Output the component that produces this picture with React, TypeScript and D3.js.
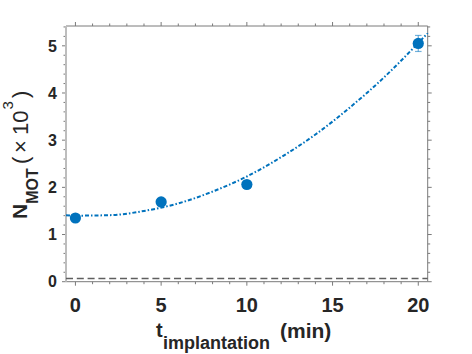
import React, { useRef, useEffect } from 'react';
import * as d3 from 'd3';

// measured atom number vs implantation time
const timeMin = [0, 5, 10, 20];
const nMot = [1.35, 1.69, 2.06, 5.05];
const nMotErr = [0.04, 0.04, 0.04, 0.17];

// fitted curve
const fitT = [-0.55, 0, 2, 4, 6, 8, 10, 12, 14, 16, 18, 20, 20.55];
const fitN = [1.41, 1.4, 1.41, 1.5, 1.66, 1.91, 2.23, 2.64, 3.12, 3.69, 4.33, 5.06, 5.27];

const backgroundLevel = 0.07;

const xTicks = [0, 5, 10, 15, 20];
const yTicks = [0, 1, 2, 3, 4, 5];
const xMinor = d3.range(0, 21, 1);
const yMinor = d3.range(0, 5.41, 0.2);

const FONT = '"Liberation Sans", Arial, Helvetica, sans-serif';
const BLUE = '#0072BD';

function App() {
  const ref = useRef<SVGSVGElement>(null);

  useEffect(() => {
    const svg = d3.select(ref.current);
    svg.selectAll('*').remove();

    const left = 66, right = 427.7, top = 26, bottom = 281.7;

    const x = d3.scaleLinear().domain([-0.55, 20.55]).range([left, right]);
    const y = d3.scaleLinear().domain([0, 5.42]).range([bottom, top]);

    const axisColor = '#7a7a7a';

    // ticks (outward on all four sides)
    const tickG = svg.append('g').attr('stroke', axisColor).attr('stroke-width', 1);
    xMinor.forEach(v => {
      const major = xTicks.includes(v);
      const len = major ? 4 : 2.5;
      tickG.append('line').attr('x1', x(v)).attr('x2', x(v)).attr('y1', bottom).attr('y2', bottom + len);
      tickG.append('line').attr('x1', x(v)).attr('x2', x(v)).attr('y1', top).attr('y2', top - len);
    });
    yMinor.forEach(v => {
      const major = yTicks.some(t => Math.abs(t - v) < 1e-6);
      const len = major ? 4 : 2.5;
      tickG.append('line').attr('x1', left).attr('x2', left - len).attr('y1', y(v)).attr('y2', y(v));
      tickG.append('line').attr('x1', right).attr('x2', right + len).attr('y1', y(v)).attr('y2', y(v));
    });

    // frame
    svg.append('line').attr('x1', left).attr('x2', right).attr('y1', top).attr('y2', top)
      .attr('stroke', axisColor);
    svg.append('line').attr('x1', left).attr('x2', right).attr('y1', bottom).attr('y2', bottom)
      .attr('stroke', axisColor);
    svg.append('line').attr('x1', right).attr('x2', right).attr('y1', top).attr('y2', bottom)
      .attr('stroke', axisColor);
    svg.append('line').attr('x1', left).attr('x2', left).attr('y1', top).attr('y2', bottom)
      .attr('stroke', '#bdbdbd').attr('stroke-width', 2);

    // tick labels
    svg.append('g').selectAll('text').data(xTicks).enter().append('text')
      .attr('x', d => x(d)).attr('y', 311.5)
      .attr('text-anchor', 'middle')
      .attr('font-family', FONT).attr('font-weight', 'bold').attr('font-size', 20)
      .attr('fill', '#262626')
      .text(d => d);

    svg.append('g').selectAll('text').data(yTicks).enter().append('text')
      .attr('x', 57).attr('y', d => y(d)).attr('dy', '0.36em')
      .attr('text-anchor', 'end')
      .attr('font-family', FONT).attr('font-weight', 'bold').attr('font-size', 16)
      .attr('fill', '#262626')
      .text(d => d);

    // background level
    svg.append('line')
      .attr('x1', left).attr('x2', right)
      .attr('y1', y(backgroundLevel)).attr('y2', y(backgroundLevel))
      .attr('stroke', '#5f5f5f').attr('stroke-width', 1.5)
      .attr('stroke-dasharray', '7,3.8');

    // fit
    const line = d3.line<number>()
      .x((d, i) => x(fitT[i]))
      .y(d => y(d))
      .curve(d3.curveMonotoneX);
    svg.append('path')
      .datum(fitN)
      .attr('d', line)
      .attr('fill', 'none')
      .attr('stroke', BLUE).attr('stroke-width', 2)
      .attr('stroke-dasharray', '4,2,1.5,2');

    // error bars
    const eg = svg.append('g').attr('stroke', BLUE).attr('stroke-opacity', 0.55).attr('stroke-width', 1.2);
    timeMin.forEach((t, i) => {
      const y0 = y(nMot[i] - nMotErr[i]);
      const y1 = y(nMot[i] + nMotErr[i]);
      eg.append('line').attr('x1', x(t)).attr('x2', x(t)).attr('y1', y0).attr('y2', y1);
      eg.append('line').attr('x1', x(t) - 3.3).attr('x2', x(t) + 3.3).attr('y1', y0).attr('y2', y0);
      eg.append('line').attr('x1', x(t) - 3.3).attr('x2', x(t) + 3.3).attr('y1', y1).attr('y2', y1);
    });

    // points
    svg.append('g').selectAll('circle').data(timeMin).enter().append('circle')
      .attr('cx', d => x(d))
      .attr('cy', (d, i) => y(nMot[i]))
      .attr('r', 5.6)
      .attr('fill', BLUE);

    // y label
    const yl = svg.append('text')
      .attr('transform', 'translate(27,219) rotate(-90)')
      .attr('font-family', FONT).attr('fill', '#262626');
    yl.append('tspan').attr('x', 0).attr('y', 0).attr('font-size', 21).attr('font-weight', 'bold').text('N');
    yl.append('tspan').attr('y', 11).attr('font-size', 16).attr('font-weight', 'bold').text('MOT');
    yl.append('tspan').attr('x', 55).attr('y', 1).attr('font-size', 22).text('(');
    yl.append('tspan').attr('x', 66).attr('y', 1).attr('font-size', 22).text('×');
    yl.append('tspan').attr('x', 84).attr('y', 1).attr('font-size', 22).text('10');
    yl.append('tspan').attr('x', 109.5).attr('y', -14).attr('font-size', 15).text('3');
    yl.append('tspan').attr('x', 121).attr('y', 1).attr('font-size', 22).text(')');

    // x label
    const xl = svg.append('text')
      .attr('font-family', FONT).attr('font-weight', 'bold').attr('fill', '#262626');
    xl.append('tspan').attr('x', 156).attr('y', 337).attr('font-size', 20).text('t');
    xl.append('tspan').attr('x', 163).attr('y', 349).attr('font-size', 18).text('implantation');
    xl.append('tspan').attr('x', 280).attr('y', 338).attr('font-size', 21).text('(min)');
  }, []);

  return (
    <svg ref={ref} width={472} height={354}
      style={{ position: 'absolute', left: 0, top: 0, background: '#fff' }} />
  );
}

export default App;
